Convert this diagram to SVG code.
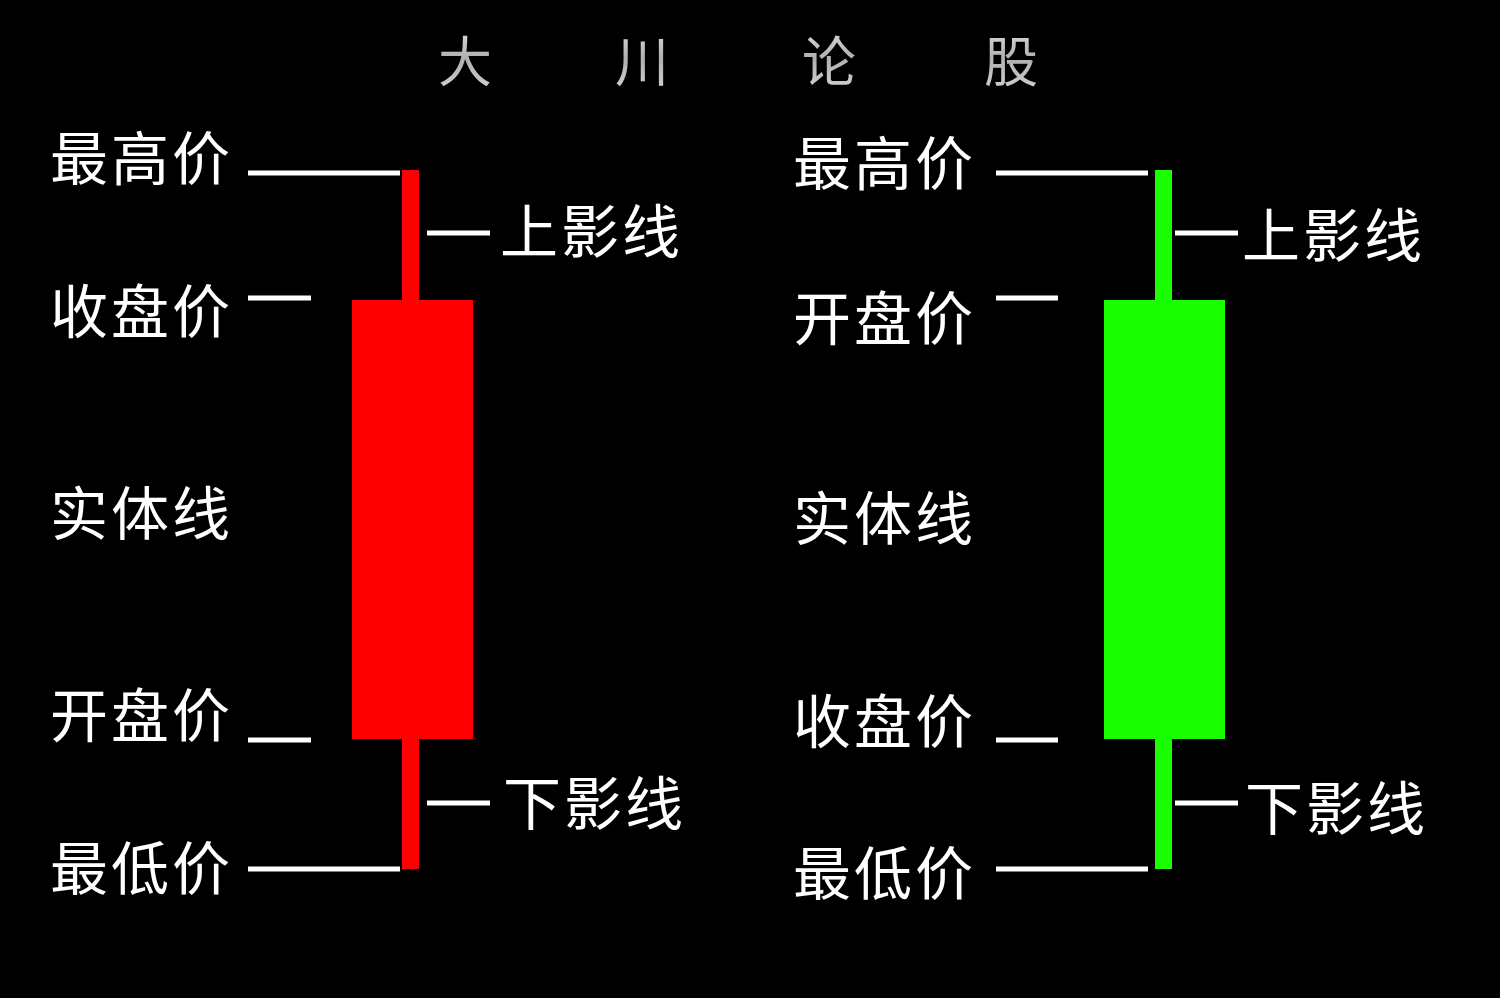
<svg xmlns="http://www.w3.org/2000/svg" width="1500" height="998" viewBox="0 0 1500 998">
<defs>
<linearGradient id="titleGrad" x1="0" y1="0" x2="0" y2="1">
<stop offset="0" stop-color="#e8e8e8"/>
<stop offset="0.5" stop-color="#b0b0b0"/>
<stop offset="1" stop-color="#d8d8d8"/>
</linearGradient>
</defs>
<style>
.lbl{font-family:"Noto Sans CJK SC","Noto Sans",sans-serif;font-size:58px;fill:#ffffff;letter-spacing:3px}
.ttl{font-family:"Noto Sans CJK SC","Noto Sans",sans-serif;font-size:54px;fill:url(#titleGrad);text-anchor:middle}
.tick{stroke:#ffffff;stroke-width:5;fill:none}
.red{fill:#ff0000}
.green{fill:#1aff00}
</style>
<rect x="0" y="0" width="1500" height="998" fill="#000000"/>
<g id="title">
<text class="ttl" x="465" y="82">大</text>
<text class="ttl" x="642" y="82">川</text>
<text class="ttl" x="829" y="82">论</text>
<text class="ttl" x="1011" y="82">股</text>
</g>
<g id="red-candle">
<rect class="red" x="402" y="170" width="17" height="699"/>
<rect class="red" x="352" y="300" width="121" height="439"/>
</g>
<g id="green-candle">
<rect class="green" x="1155" y="170" width="17" height="699"/>
<rect class="green" x="1104" y="300" width="121" height="439"/>
</g>
<g id="connectors">
<line class="tick" x1="248" y1="173" x2="400" y2="173"/>
<line class="tick" x1="248" y1="298" x2="311" y2="298"/>
<line class="tick" x1="248" y1="740" x2="311" y2="740"/>
<line class="tick" x1="248" y1="869" x2="400" y2="869"/>
<line class="tick" x1="427" y1="233" x2="490" y2="233"/>
<line class="tick" x1="427" y1="803" x2="490" y2="803"/>
<line class="tick" x1="996" y1="173" x2="1148" y2="173"/>
<line class="tick" x1="996" y1="298" x2="1058" y2="298"/>
<line class="tick" x1="996" y1="740" x2="1058" y2="740"/>
<line class="tick" x1="996" y1="869" x2="1148" y2="869"/>
<line class="tick" x1="1175" y1="233" x2="1238" y2="233"/>
<line class="tick" x1="1175" y1="803" x2="1238" y2="803"/>
</g>
<g id="left-labels">
<text id="l-high" class="lbl" x="50" y="180">最高价</text>
<text id="l-close" class="lbl" x="50" y="333">收盘价</text>
<text id="l-body" class="lbl" x="50" y="535">实体线</text>
<text id="l-open" class="lbl" x="50" y="737">开盘价</text>
<text id="l-low" class="lbl" x="50" y="890">最低价</text>
<text id="l-upper" class="lbl" x="500" y="253">上影线</text>
<text id="l-lower" class="lbl" x="503" y="825">下影线</text>
</g>
<g id="right-labels">
<text id="r-high" class="lbl" x="793" y="185">最高价</text>
<text id="r-open" class="lbl" x="793" y="340">开盘价</text>
<text id="r-body" class="lbl" x="793" y="540">实体线</text>
<text id="r-close" class="lbl" x="793" y="743">收盘价</text>
<text id="r-low" class="lbl" x="793" y="895">最低价</text>
<text id="r-upper" class="lbl" x="1242" y="257">上影线</text>
<text id="r-lower" class="lbl" x="1245" y="830">下影线</text>
</g>
</svg>
